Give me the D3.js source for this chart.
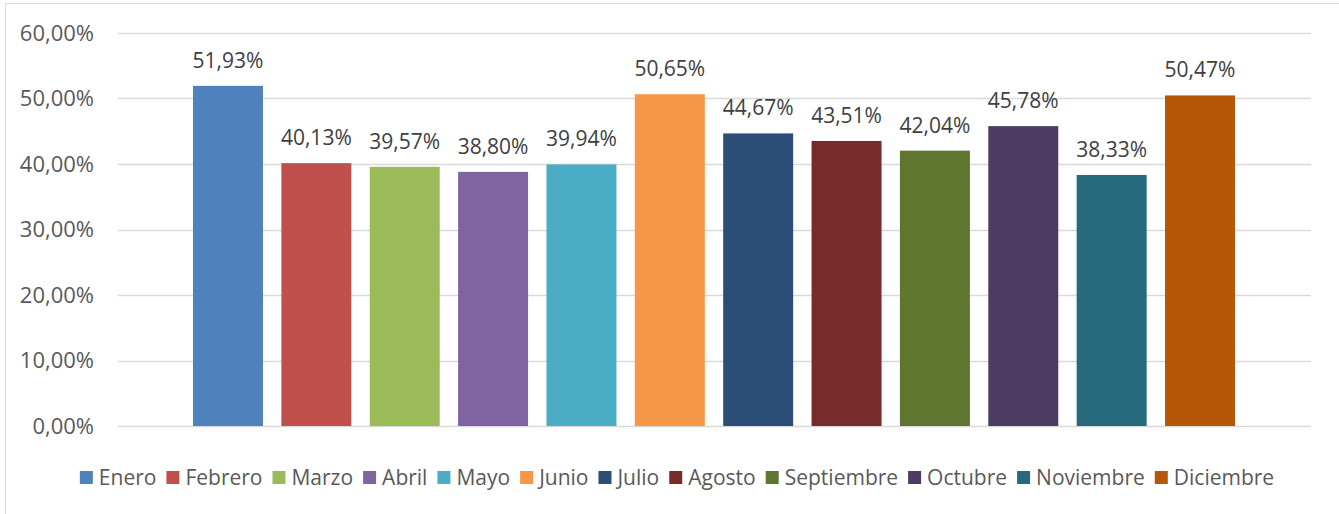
<!DOCTYPE html>
<html>
<head>
<meta charset="utf-8">
<script src="https://cdn.jsdelivr.net/npm/d3@7"></script>
<style>
  body { margin: 0; background: #fff; }
  svg { display: block; font-family: "Open Sans", "Noto Sans", sans-serif; }
</style>
</head>
<body>
<div id="chart-area"></div>
<script>
// data
const months = ["Enero", "Febrero", "Marzo", "Abril", "Mayo", "Junio", "Julio", "Agosto", "Septiembre", "Octubre", "Noviembre", "Diciembre"]
const values = [51.93, 40.13, 39.57, 38.80, 39.94, 50.65, 44.67, 43.51, 42.04, 45.78, 38.33, 50.47]
const colors = ["#4F81BD", "#C0504D", "#9BBB59", "#8064A2", "#4BACC6", "#F79646", "#2C4D75", "#772C2A", "#5F7530", "#4D3B62", "#276A7C", "#B65708"]
const yTicks = [0, 10, 20, 30, 40, 50, 60]

const width = 1339, height = 514
const fmt = v => v.toFixed(2).replace(".", ",")

const svg = d3.select("#chart-area").append("svg").attr("width", width).attr("height", height)

// chart border (only left and top visible)
svg.append("rect")
    .attr("x", 5.5).attr("y", 3.5)
    .attr("width", 1400).attr("height", 600)
    .attr("fill", "none").attr("stroke", "#d9d9d9")

const plotLeft = 118, plotRight = 1311
const y = d3.scaleLinear().domain([0, 60]).range([426, 33])
const x = d3.scaleBand().domain(months).range([183.8, 1244.2]).paddingInner(0.208).paddingOuter(0.104)

// gridlines
svg.append("g").selectAll("line").data(yTicks).enter()
    .append("line")
    .attr("x1", plotLeft).attr("x2", plotRight)
    .attr("y1", d => Math.round(y(d)) + 0.5)
    .attr("y2", d => Math.round(y(d)) + 0.5)
    .attr("stroke", "#d9d9d9").attr("stroke-width", 1.3)

// y tick labels
svg.append("g").selectAll("text").data(yTicks).enter()
    .append("text")
    .attr("x", 94)
    .attr("y", d => y(d))
    .attr("dy", "0.36em")
    .attr("text-anchor", "end")
    .attr("fill", "#595959")
    .attr("font-size", "22px")
    .text(d => fmt(d) + "%")

// bars
svg.append("g").selectAll("rect").data(values).enter()
    .append("rect")
    .attr("x", (d, i) => x(months[i]))
    .attr("y", d => y(d))
    .attr("width", x.bandwidth())
    .attr("height", d => y(0) - y(d))
    .attr("fill", (d, i) => colors[i])

// value labels
svg.append("g").selectAll("text").data(values).enter()
    .append("text")
    .attr("x", (d, i) => x(months[i]) + x.bandwidth() / 2)
    .attr("y", d => y(d) - 18)
    .attr("text-anchor", "middle")
    .attr("fill", "#404040")
    .attr("font-size", "21px")
    .text(d => fmt(d) + "%")

// legend
const legend = svg.append("g")
const items = legend.selectAll("g").data(months).enter().append("g")
items.append("rect")
    .attr("y", 471).attr("width", 13).attr("height", 13)
    .attr("fill", (d, i) => colors[i])
items.append("text")
    .attr("x", 19).attr("y", 485)
    .attr("fill", "#595959")
    .attr("font-size", "21px")
    .text(d => d)

let pos = 0
items.each(function () {
  const w = d3.select(this).select("text").node().getComputedTextLength()
  d3.select(this).attr("transform", `translate(${pos},0)`)
  pos += 19 + w + 10
})
pos -= 10
legend.attr("transform", `translate(${677 - pos / 2},0)`)
</script>
</body>
</html>
